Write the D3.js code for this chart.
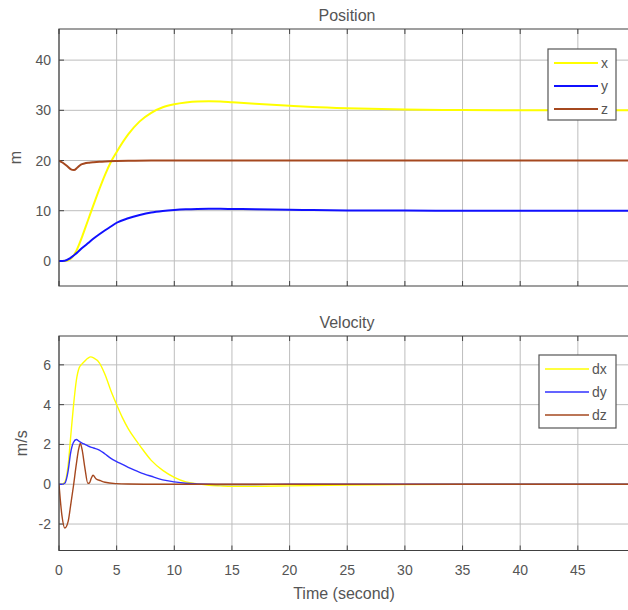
<!DOCTYPE html>
<html>
<head>
<meta charset="utf-8">
<script src="https://cdn.jsdelivr.net/npm/d3@7"></script>
<style>
  body { margin: 0; background: #fff; }
  text { font-family: "Liberation Sans", Arial, Helvetica, sans-serif; fill: #555; }
</style>
</head>
<body>
<div id="chart"></div>
<script>
// position data (m)
const timePos = [0, 0.5, 1, 1.5, 2, 2.5, 3, 3.5, 4, 4.5, 5, 6, 7, 8, 9, 10, 11, 12, 13, 14, 15, 17, 20, 22, 25, 30, 35, 40, 45, 50];
const posX = [0, 0, 0.4, 2.0, 4.8, 8.0, 11.2, 14.3, 17.2, 19.7, 21.7, 25.2, 27.8, 29.5, 30.6, 31.2, 31.55, 31.75, 31.8, 31.75, 31.6, 31.3, 30.9, 30.65, 30.4, 30.15, 30.05, 30, 30, 30];
const posY = [0, 0.05, 0.6, 1.5, 2.55, 3.5, 4.45, 5.3, 6.1, 6.85, 7.6, 8.5, 9.15, 9.65, 9.95, 10.15, 10.28, 10.35, 10.38, 10.38, 10.35, 10.28, 10.18, 10.12, 10.06, 10.02, 10, 10, 10, 10];
const timeZ = [0, 0.3, 0.7, 1.0, 1.3, 1.6, 1.9, 2.2, 2.6, 3, 3.5, 4, 5, 6, 8, 50];
const posZ = [20, 19.6, 18.9, 18.3, 18.1, 18.6, 19.2, 19.4, 19.55, 19.65, 19.75, 19.82, 19.9, 19.95, 20, 20];

// velocity data (m/s)
const timeVel = [0, 0.25, 0.5, 0.8, 1.0, 1.25, 1.5, 1.75, 2.0, 2.25, 2.5, 2.75, 3, 3.5, 4, 4.5, 5, 5.5, 6, 6.5, 7, 8, 9, 10, 11, 12, 13, 14, 15, 17, 20, 25, 30, 35, 50];
const velX = [0, 0, 0.1, 1.0, 2.3, 3.9, 5.2, 5.85, 6.05, 6.2, 6.33, 6.4, 6.35, 6.1, 5.5, 4.7, 4.0, 3.35, 2.8, 2.35, 1.95, 1.2, 0.7, 0.35, 0.12, 0.02, -0.05, -0.08, -0.1, -0.1, -0.08, -0.04, -0.02, 0, 0];
const velY = [0, 0, 0.05, 0.7, 1.55, 2.1, 2.25, 2.15, 2.07, 2.0, 1.93, 1.87, 1.82, 1.72, 1.52, 1.3, 1.14, 1.0, 0.85, 0.72, 0.6, 0.4, 0.22, 0.12, 0.05, 0.02, 0, -0.01, -0.01, -0.01, 0, 0, 0, 0, 0];
const timeDz = [0, 0.25, 0.5, 0.8, 1.0, 1.25, 1.5, 1.7, 1.85, 2.0, 2.25, 2.5, 2.62, 2.8, 2.95, 3.2, 3.6, 4, 5, 6, 8, 50];
const velZ = [0, -1.55, -2.2, -1.85, -1.1, -0.1, 1.0, 1.75, 2.05, 1.75, 0.8, 0.05, 0.05, 0.3, 0.45, 0.28, 0.18, 0.1, 0.03, 0.01, 0, 0];

const xTicks = [0, 5, 10, 15, 20, 25, 30, 35, 40, 45, 50];
const posTicks = [0, 10, 20, 30, 40];
const velTicks = [-2, 0, 2, 4, 6];

const colors = { x: '#ffff00', y: '#1010ff', z: '#a5481f' };

const width = 628;
const height = 610;

const svg = d3.select('#chart').append('svg')
  .attr('width', width)
  .attr('height', height);

const xScale = d3.scaleLinear()
  .domain([0, 50])
  .range([59, 635.5]);

function drawPanel(opts) {
  const y = d3.scaleLinear()
    .domain(opts.domain)
    .range([opts.bottom, opts.top]);

  const g = svg.append('g');

  const clipId = 'clip-' + opts.id;
  svg.append('clipPath').attr('id', clipId)
    .append('rect')
    .attr('x', 59).attr('y', opts.top)
    .attr('width', 635.5 - 59).attr('height', opts.bottom - opts.top);

  // grid
  g.selectAll('.vgrid').data(xTicks).join('line')
    .attr('x1', d => xScale(d)).attr('x2', d => xScale(d))
    .attr('y1', opts.top).attr('y2', opts.bottom)
    .attr('stroke', '#bdbdbd').attr('stroke-width', 1);
  g.selectAll('.hgrid').data(opts.ticks).join('line')
    .attr('x1', 59).attr('x2', 635.5)
    .attr('y1', d => y(d)).attr('y2', d => y(d))
    .attr('stroke', '#bdbdbd').attr('stroke-width', 1);

  // inward ticks
  g.selectAll('.xtickb').data(xTicks).join('line')
    .attr('x1', d => xScale(d)).attr('x2', d => xScale(d))
    .attr('y1', opts.bottom).attr('y2', opts.bottom - 5)
    .attr('stroke', '#444');
  g.selectAll('.xtickt').data(xTicks).join('line')
    .attr('x1', d => xScale(d)).attr('x2', d => xScale(d))
    .attr('y1', opts.top).attr('y2', opts.top + 5)
    .attr('stroke', '#444');
  g.selectAll('.ytick').data(opts.ticks).join('line')
    .attr('x1', 59).attr('x2', 64)
    .attr('y1', d => y(d)).attr('y2', d => y(d))
    .attr('stroke', '#444');

  // lines
  const lines = g.append('g').attr('clip-path', 'url(#' + clipId + ')');
  opts.series.forEach(s => {
    const pts = s.t.map((t, i) => [t, s.v[i]]);
    lines.append('path')
      .attr('d', d3.line()
        .x(d => xScale(d[0]))
        .y(d => y(d[1]))
        .curve(d3.curveMonotoneX)(pts))
      .attr('fill', 'none')
      .attr('stroke', s.color)
      .attr('stroke-width', opts.lineWidth);
  });

  // box
  g.append('path')
    .attr('d', `M635.5,${opts.top}H59V${opts.bottom}H635.5`)
    .attr('fill', 'none')
    .attr('stroke', '#404040')
    .attr('stroke-width', 1.2);

  // y tick labels
  g.selectAll('.ylab').data(opts.ticks).join('text')
    .attr('x', 51).attr('y', d => y(d) + 5)
    .attr('text-anchor', 'end')
    .attr('font-size', 14)
    .text(d => d);

  // title
  g.append('text')
    .attr('x', 347).attr('y', opts.top - 8)
    .attr('text-anchor', 'middle')
    .attr('font-size', 16)
    .text(opts.title);

  // y label
  g.append('text')
    .attr('transform', `translate(${opts.ylabelX},${(opts.top + opts.bottom) / 2}) rotate(-90)`)
    .attr('text-anchor', 'middle')
    .attr('font-size', 16)
    .text(opts.ylabel);

  // legend
  const lg = g.append('g');
  lg.append('rect')
    .attr('x', opts.legend.x).attr('y', opts.legend.y)
    .attr('width', opts.legend.w).attr('height', opts.legend.h)
    .attr('fill', '#fff').attr('stroke', '#555').attr('stroke-width', 1.2);
  opts.series.forEach((s, i) => {
    const ly = opts.legend.y + 14 + i * 23;
    lg.append('line')
      .attr('x1', opts.legend.x + 6).attr('x2', opts.legend.x + 50)
      .attr('y1', ly).attr('y2', ly)
      .attr('stroke', s.color).attr('stroke-width', opts.lineWidth);
    lg.append('text')
      .attr('x', opts.legend.x + 53).attr('y', ly + 5)
      .attr('font-size', 14)
      .text(s.name);
  });

  return y;
}

drawPanel({
  id: 'pos',
  top: 29, bottom: 286,
  domain: [-5, 46.2],
  ticks: posTicks,
  title: 'Position',
  ylabel: 'm',
  ylabelX: 21,
  lineWidth: 2,
  legend: { x: 548, y: 49, w: 68, h: 71 },
  series: [
    { name: 'x', t: timePos, v: posX, color: colors.x },
    { name: 'y', t: timePos, v: posY, color: colors.y },
    { name: 'z', t: timeZ, v: posZ, color: colors.z }
  ]
});

drawPanel({
  id: 'vel',
  top: 336, bottom: 550.5,
  domain: [-3.33, 7.45],
  ticks: velTicks,
  title: 'Velocity',
  ylabel: 'm/s',
  ylabelX: 27,
  lineWidth: 1.4,
  legend: { x: 539, y: 355, w: 77, h: 73 },
  series: [
    { name: 'dx', t: timeVel, v: velX, color: colors.x },
    { name: 'dy', t: timeVel, v: velY, color: '#3030ff' },
    { name: 'dz', t: timeDz, v: velZ, color: colors.z }
  ]
});

// x tick labels and x label
svg.selectAll('.xlab').data(xTicks.filter(d => d < 50)).join('text')
  .attr('x', d => xScale(d)).attr('y', 575)
  .attr('text-anchor', 'middle')
  .attr('font-size', 14)
  .text(d => d);

svg.append('text')
  .attr('x', 344).attr('y', 599)
  .attr('text-anchor', 'middle')
  .attr('font-size', 16)
  .text('Time (second)');
</script>
</body>
</html>
